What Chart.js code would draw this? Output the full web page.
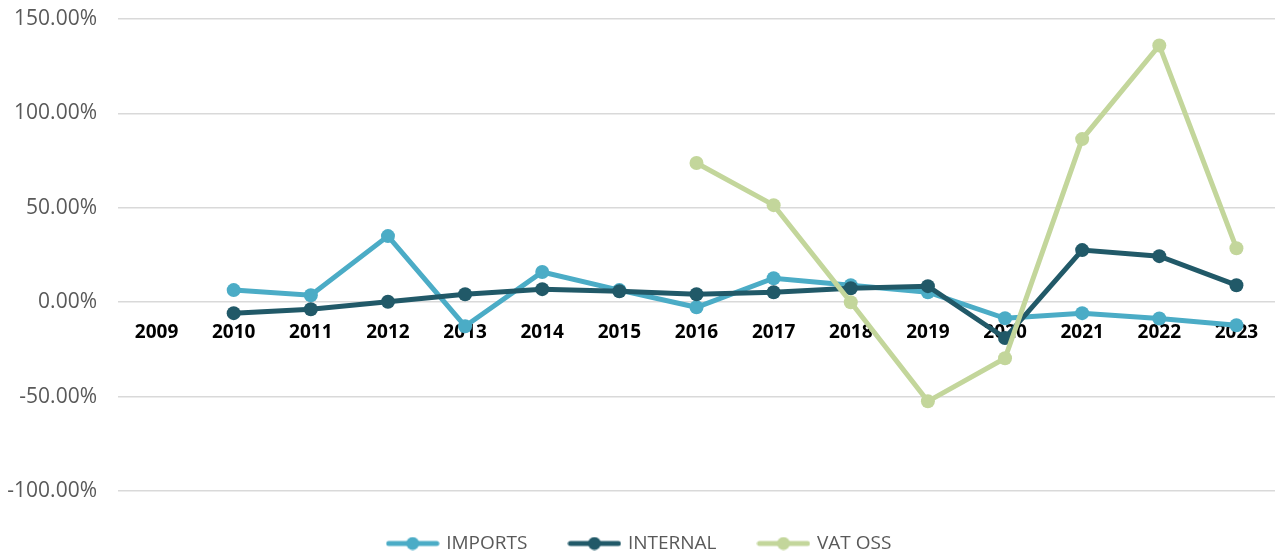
<!DOCTYPE html>
<html>
<head>
<meta charset="utf-8">
<script src="https://cdn.jsdelivr.net/npm/chart.js@4/dist/chart.umd.min.js"></script>
<style>
  html, body { margin: 0; padding: 0; background: #fff; }
  #wrap { width: 1282px; height: 555px; }
</style>
</head>
<body>
<div id="wrap"><canvas id="growthChart"></canvas></div>
<script>
// Year-on-year change (%) per channel
const years = ['2009', '2010', '2011', '2012', '2013', '2014', '2015', '2016',
               '2017', '2018', '2019', '2020', '2021', '2022', '2023'];
const importsData  = [null, 6.4, 3.7, 35, -12.7, 16, 6.4, -2.7, 12.7, 9, 5.3, -8.5, -5.8, -8.6, -12.2];
const internalData = [null, -5.8, -3.7, 0.2, 4.2, 6.9, 5.8, 4.2, 5.3, 7.4, 8.5, -19, 27.6, 24.4, 9];
const vatOssData   = [null, null, null, null, null, null, null, 73.7, 51.4, 0, -52.5, -29.7, 86.4, 136, 28.6];
const yTicks = [-100, -50, 0, 50, 100, 150];

const FONT = "'Open Sans', 'Liberation Sans', sans-serif";

// Legend marker: short line with a dot in the middle
function legendMarker(color) {
    const c = document.createElement('canvas');
    c.width = 54;
    c.height = 14;
    const g = c.getContext('2d');
    g.strokeStyle = color;
    g.lineWidth = 5;
    g.lineCap = 'round';
    g.beginPath();
    g.moveTo(3, 7);
    g.lineTo(51, 7);
    g.stroke();
    g.fillStyle = color;
    g.beginPath();
    g.arc(27, 7, 6.5, 0, Math.PI * 2);
    g.fill();
    return c;
}

function series(label, data, color, order) {
    return {
        label: label,
        data: data,
        borderColor: color,
        backgroundColor: color,
        borderWidth: 5,
        pointStyle: 'circle',
        pointRadius: 7,
        pointHoverRadius: 7,
        pointBackgroundColor: color,
        pointBorderWidth: 0,
        tension: 0,
        spanGaps: false,
        order: order
    };
}

const ctx = document.getElementById('growthChart');

new Chart(ctx, {
    type: 'line',
    data: {
        labels: years,
        datasets: [
            series('IMPORTS', importsData, '#4BACC6', 3),
            series('INTERNAL', internalData, '#215968', 2),
            series('VAT OSS', vatOssData, '#C3D69B', 1)
        ]
    },
    options: {
        responsive: true,
        maintainAspectRatio: false,
        animation: false,
        layout: {
            padding: { top: 19, right: 2, left: 0, bottom: -8 }
        },
        plugins: {
            tooltip: { enabled: false },
            legend: {
                position: 'bottom',
                labels: {
                    usePointStyle: true,
                    pointStyleWidth: 48,
                    boxHeight: 14,
                    padding: 43,
                    color: '#595959',
                    font: { family: FONT, size: 19 },
                    generateLabels: (chart) => chart.data.datasets.map((ds, i) => ({
                        text: ds.label,
                        fontColor: '#595959',
                        pointStyle: legendMarker(ds.borderColor),
                        strokeStyle: ds.borderColor,
                        fillStyle: ds.borderColor,
                        lineWidth: 0,
                        hidden: false,
                        datasetIndex: i
                    }))
                }
            }
        },
        scales: {
            x: {
                position: { y: 0 },
                offset: true,
                grid: { display: false, drawTicks: false },
                border: { display: false },
                ticks: {
                    color: '#000',
                    padding: 19,
                    maxRotation: 0,
                    autoSkip: false,
                    font: { family: FONT, size: 19, weight: 'bold' }
                }
            },
            y: {
                min: yTicks[0],
                max: yTicks[yTicks.length - 1],
                afterFit: (scale) => {
                    scale.width = 118;
                    scale.paddingTop = 0;
                    scale.paddingBottom = 0;
                },
                afterBuildTicks: (scale) => {
                    scale.ticks = yTicks.map(v => ({ value: v }));
                },
                grid: { color: '#D9D9D9', lineWidth: 1.5, drawTicks: false },
                border: { display: false },
                ticks: {
                    color: '#595959',
                    padding: 21,
                    font: { family: FONT, size: 21 },
                    callback: (v) => v.toFixed(2) + '%'
                }
            }
        }
    }
});
</script>
</body>
</html>
